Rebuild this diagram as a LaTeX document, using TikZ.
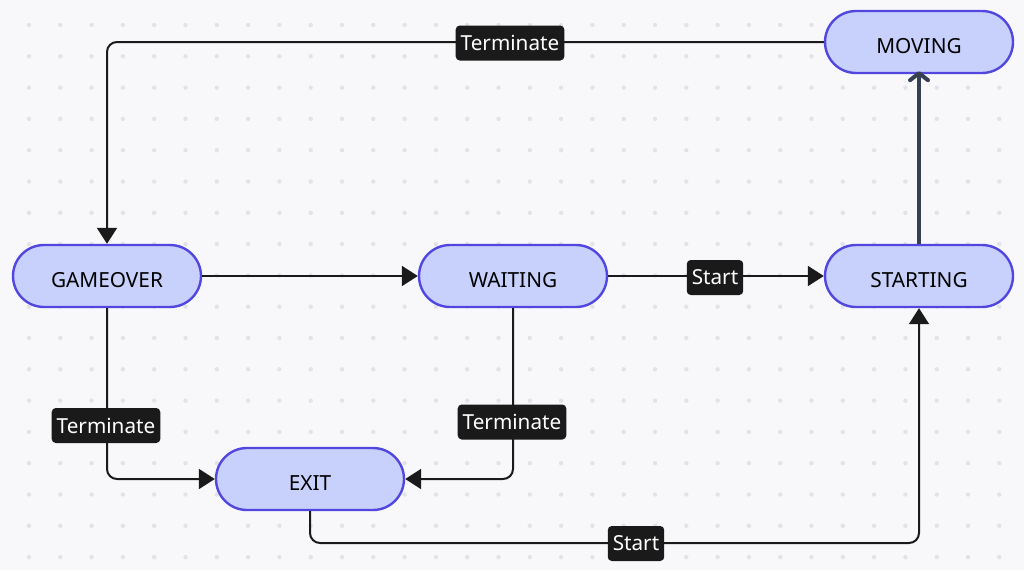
\documentclass[tikz,border=0pt]{standalone}
\usepackage{fontspec}
\setmainfont{Noto Sans}
\usetikzlibrary{arrows.meta}
\definecolor{bg}{HTML}{F8F8FB}
\definecolor{dotc}{HTML}{E2E2E8}
\definecolor{nodefill}{HTML}{C8D1FB}
\definecolor{nodeline}{HTML}{5147DE}
\definecolor{edgec}{HTML}{1A1A1A}
\definecolor{slate}{HTML}{354052}
\tikzset{
  state/.style={rectangle, rounded corners=31pt, draw=nodeline, fill=nodefill, line width=2.4pt,
    minimum width=188pt, minimum height=62pt, inner sep=0pt, text height=22pt, text depth=0pt,
    font=\fontsize{20.8}{22}\selectfont, text=black},
  lbl/.style={rectangle, rounded corners=4pt, fill=edgec, text=white, inner xsep=5pt, inner ysep=0pt,
    minimum height=35pt, font=\fontsize{20.7}{22}\selectfont},
  edge/.style={draw=edgec, line width=2pt, rounded corners=10pt, -{Triangle[length=16pt,width=20pt]}},
}
\begin{document}
\begin{tikzpicture}[x=1pt,y=-1pt]
\useasboundingbox (0,0) rectangle (1024,570);
\fill[bg] (0,0) rectangle (1024,570);
\foreach \i in {0,...,32} {
  \foreach \j in {0,...,17} {
    \fill[dotc] (29+31.3*\i, 25+31.3*\j) circle (2.2pt);
  }
}
\node[state] (gameover) at (107,276) {GAMEOVER};
\node[state] (waiting) at (513,276) {WAITING};
\node[state] (starting) at (919,276) {STARTING};
\node[state] (moving) at (919,42) {MOVING};
\node[state] (exit) at (310,479) {EXIT};

\coordinate (c1) at (107,42);
\coordinate (c2) at (107,479);
\coordinate (c3) at (513,479);
\coordinate (c4) at (310,543);
\coordinate (c5) at (919,543);

\draw[edge] (moving.west) -- (c1) -- (gameover.north);
\draw[edge] (gameover.east) -- (waiting.west);
\draw[edge] (waiting.east) -- (starting.west);
\draw[draw=slate, line width=4pt, -{Straight Barb[length=7pt,width=18pt,line cap=round, line join=round]}] (starting.north) -- ([yshift=3pt]moving.south);
\draw[edge] (gameover.south) -- (c2) -- (exit.west);
\draw[edge] (waiting.south) -- (c3) -- (exit.east);
\draw[edge] (exit.south) -- (c4) -- (c5) -- (starting.south);

\node[lbl] (l1) at (510,43) {Terminate};
\node[lbl] (l2) at (715,277.5) {Start};
\node[lbl] (l3) at (106,425.5) {Terminate};
\node[lbl] (l4) at (512,422) {Terminate};
\node[lbl] (l5) at (636,543.5) {Start};
\end{tikzpicture}
\end{document}
